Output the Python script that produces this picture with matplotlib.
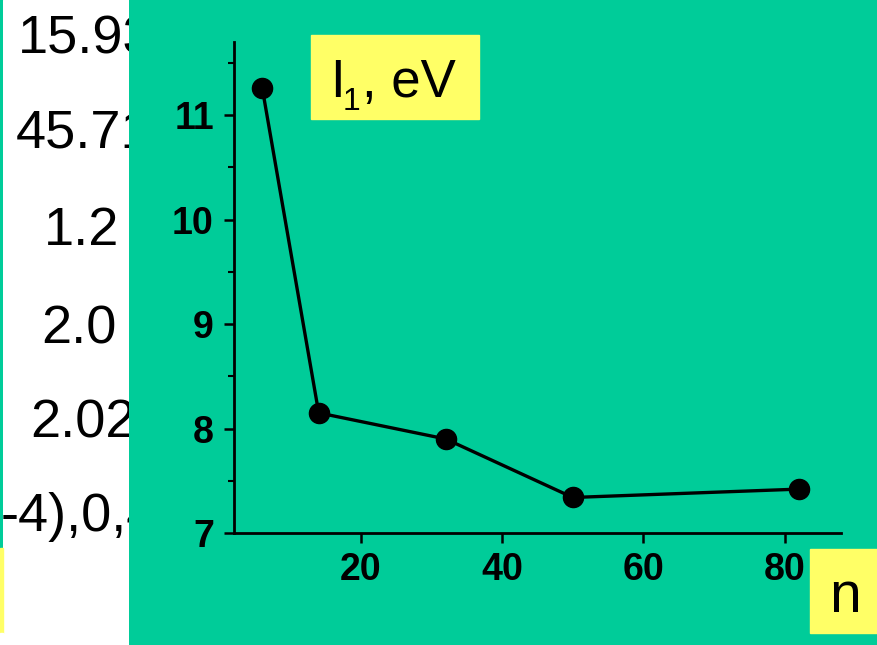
import matplotlib
matplotlib.use('Agg')
import matplotlib.pyplot as plt
from matplotlib.patches import Rectangle
from matplotlib.ticker import MultipleLocator

# data
n_atoms = [6, 14, 32, 50, 82]
ion_energy = [11.26, 8.15, 7.90, 7.34, 7.42]
x_ticks = [20, 40, 60, 80]
y_ticks = [7, 8, 9, 10, 11]

# clipped table fragments on the left
left_texts = ['15.93', '45.71', '1.2', '2.0', '2.02', '-4),0,4']

GREEN = '#00CC99'
YELLOW = '#FFFF66'
W, H = 878, 645

plt.rcParams['font.family'] = ['Liberation Sans', 'DejaVu Sans']


def fx(px):
    return px / W


def fy(py):
    return 1 - py / H


fig = plt.figure(figsize=(W / 100, H / 100), dpi=100, facecolor=GREEN)

# left white panel with clipped numbers
pan = fig.add_axes([fx(3), 0, fx(129) - fx(3), 1])
pan.set_facecolor('white')
pan.set_xlim(3, 129)
pan.set_ylim(H, 0)
pan.axis('off')
pan.add_patch(Rectangle((3, 0), 126, H, color='white', zorder=0))
x_pos = [18, 16, 44, 41, 30, 1]
y_base = [53, 148, 245, 344, 438, 531]
for t, xp, yp in zip(left_texts, x_pos, y_base):
    pan.text(xp, yp, t, fontsize=39, va='baseline', ha='left', clip_on=True)

# thin strips at far left edge
fig.patches.append(Rectangle((0, fy(633)), fx(3), fy(548) - fy(633),
                             color=YELLOW, transform=fig.transFigure))
fig.patches.append(Rectangle((0, 0), fx(3), fy(633),
                             color='white', transform=fig.transFigure))

# main chart
ax = fig.add_axes([fx(234), fy(533), fx(841) - fx(234), fy(42) - fy(533)])
ax.set_facecolor(GREEN)
ax.plot(n_atoms, ion_energy, color='black', lw=2.4, marker='o',
        markersize=14.5, clip_on=False)
ax.set_xlim(2, 88)
ax.set_ylim(7, 11.7)
ax.set_xticks(x_ticks)
ax.set_yticks(y_ticks)
ax.yaxis.set_minor_locator(MultipleLocator(0.5))
for s in ['top', 'right']:
    ax.spines[s].set_visible(False)
for s in ['left', 'bottom']:
    ax.spines[s].set_linewidth(2.0)
ax.tick_params(axis='both', which='major', length=7.5, width=1.8,
               labelsize=27, direction='out')
ax.tick_params(axis='y', which='minor', length=4.5, width=1.5)
ax.tick_params(axis='x', pad=6)
ax.tick_params(axis='y', pad=7)
for lab in ax.get_xticklabels() + ax.get_yticklabels():
    lab.set_fontweight('bold')

# yellow label boxes
fig.patches.append(Rectangle((fx(311), fy(119)), fx(479) - fx(311), fy(35) - fy(119),
                             color=YELLOW, transform=fig.transFigure, zorder=5))
fig.text(fx(330), fy(97), 'I', fontsize=38, ha='left', va='baseline', zorder=6)
fig.text(fx(343), fy(110), '1', fontsize=23, ha='left', va='baseline', zorder=6)
fig.text(fx(362), fy(97), ', eV', fontsize=38, ha='left', va='baseline', zorder=6)
fig.patches.append(Rectangle((fx(810), fy(633)), fx(878) - fx(810), fy(549) - fy(633),
                             color=YELLOW, transform=fig.transFigure, zorder=5))
fig.text(fx(845), fy(612), 'n', fontsize=41, ha='center', va='baseline', zorder=6)

fig.savefig('out.png', dpi=100, facecolor=GREEN)
